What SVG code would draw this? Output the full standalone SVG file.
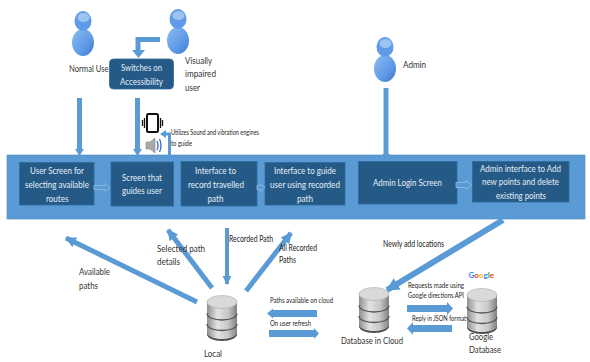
<svg xmlns="http://www.w3.org/2000/svg" width="590" height="362" viewBox="0 0 590 362">
<style>
text{font-family:"Lato","Liberation Sans",sans-serif;font-size:10px;fill:#333}
.w{fill:#e6eef6;font-size:10px}
.s{font-size:8px;fill:#222}
.n{font-size:9px;fill:#222}
.box{fill:#255a87;stroke:#2f6a9c;stroke-width:.8}
.c{fill:none;stroke:#5b9bd5;stroke-width:5}
.t{fill:none;stroke:#5b9bd5;stroke-width:3}
.ch{fill:#5b9bd5}
.m{fill:#5b9bd5;stroke:#8fbde4;stroke-width:.8}
</style>
<defs>
<linearGradient id="pg" x1="0" y1="0" x2="1" y2="1"><stop offset="0" stop-color="#8dbcf0"/><stop offset=".6" stop-color="#5f9be8"/><stop offset="1" stop-color="#3f78cc"/></linearGradient>
<linearGradient id="dg" x1="0" y1="0" x2="1" y2="0"><stop offset="0" stop-color="#8f8f8f"/><stop offset=".35" stop-color="#e2e2e2"/><stop offset=".7" stop-color="#c8c8c8"/><stop offset="1" stop-color="#808080"/></linearGradient>
<marker id="a" viewBox="0 0 10 10" refX="9" refY="5" markerWidth="2.2" markerHeight="2.500" orient="auto"><path d="M0 0L10 5L0 10Z" fill="#5b9bd5"/></marker>
<symbol id="person" viewBox="0 0 22 45" overflow="visible">
<ellipse cx="11" cy="31.500" rx="11" ry="13.500" fill="url(#pg)"/>
<ellipse cx="11" cy="10" rx="8.500" ry="10" fill="#5f9be8"/>
<ellipse cx="11.500" cy="6.500" rx="6" ry="4.500" fill="#9cc4f2"/>
</symbol>
<symbol id="db" viewBox="0 0 32 46" overflow="visible">
<path d="M1 7V39C1 43 8 46 16 46S31 43 31 39V7Z" fill="url(#dg)"/>
<path d="M1 39C1 43 8 46 16 46S31 43 31 39V37.500C31 41.500 24 44 16 44S1 41.500 1 37.500Z" fill="#4d4d4d"/>
<path d="M1 18.500C1 22.500 8 25 16 25S31 22.500 31 18.500M1 29C1 33 8 35.500 16 35.500S31 33 31 29" fill="none" stroke="#555" stroke-width="1.300"/>
<ellipse cx="16" cy="7" rx="15" ry="6.500" fill="#d9d9d9" stroke="#aaa" stroke-width=".6"/>
</symbol>
</defs>

<rect id="band" x="7" y="155" width="578" height="64" fill="#5b9bd5" stroke="#4a85bd" stroke-width=".6"/>

<g id="connectors">
<path class="c" d="M160 39.500H138V50"/>
<path class="ch" d="M132 50H145L138.500 58Z"/>
<path class="c" d="M79.500 98V150"/><path class="ch" d="M75 149H84L79.500 156Z"/>
<path class="c" d="M137.500 98V150"/><path class="ch" d="M133 149H142L137.500 156Z"/>
<path class="c" d="M386 88V154"/><path class="ch" d="M382 154H390L386 160Z"/>
<path class="t" d="M169.500 165V134H165"/><path class="ch" d="M166 130V138L160 134Z"/>
<path class="c" d="M197 302L66 238" marker-end="url(#a)"/>
<path class="c" d="M212 288L168 230" marker-end="url(#a)"/>
<path class="c" style="stroke-width:4" d="M227 228V284" marker-end="url(#a)"/>
<path class="c" d="M246 291L291 233" marker-end="url(#a)"/>
<path class="c" style="stroke-width:6" d="M503 220L387 290" marker-end="url(#a)"/>
<path class="ch" d="M317 310V317H273V318.500L267 313.500L273 308.500V310Z"/>
<path class="ch" d="M269 330H314V328L319 333.500L314 339V337H269Z"/>
<path class="ch" d="M407 305H447V302L453 308.500L447 315V312H407Z"/>
<path class="ch" d="M452 325V332H413V335L407 328.500L413 322V325Z"/>
</g>

<g id="normal-user"><use href="#person" x="72" y="11" width="22" height="45"/><text x="69" y="72" textLength="39.500" lengthAdjust="spacingAndGlyphs">Normal Use</text></g>
<g id="impaired-user"><use href="#person" x="167" y="9" width="22" height="45"/><text x="185" y="64" textLength="27" lengthAdjust="spacingAndGlyphs">Visually</text><text x="185" y="77" textLength="31" lengthAdjust="spacingAndGlyphs">impaired</text><text x="185" y="91" textLength="15" lengthAdjust="spacingAndGlyphs">user</text></g>
<g id="admin"><use href="#person" x="374" y="37" width="22" height="45"/><text x="403" y="68" textLength="23" lengthAdjust="spacingAndGlyphs">Admin</text></g>
<g id="accessibility"><rect class="box" x="109.500" y="59" width="64" height="30" rx="4"/><text class="w" x="121" y="71" textLength="41" lengthAdjust="spacingAndGlyphs">Switches on</text><text class="w" x="120" y="85" textLength="43" lengthAdjust="spacingAndGlyphs">Accessibility</text></g>

<g id="vibration-icon">
<rect x="147" y="114" width="11" height="18" rx="1.500" fill="#fff" stroke="#111" stroke-width="2"/>
<path d="M144.500 118V128M142.500 120V126M160.500 118V128M162.500 120V126" stroke="#111" stroke-width="1.300"/>
</g>
<g id="sound-icon">
<path d="M146 142H150L155 138V153L150 149H146Z" fill="#aaa" stroke="#777" stroke-width=".5"/>
<path d="M157 141Q159 145.500 157 150M159.500 139Q162.500 145.500 159.500 152" fill="none" stroke="#3d6fd6" stroke-width="1.300"/>
</g>
<text class="s" x="171" y="135" textLength="88" lengthAdjust="spacingAndGlyphs">Utilizes Sound and vibration engines</text>
<text class="s" x="171" y="146" textLength="21" lengthAdjust="spacingAndGlyphs">to guide</text>

<g id="user-screen"><rect class="box" x="19.500" y="162.500" width="74.500" height="42.500"/><text class="w" x="30" y="174" textLength="54" lengthAdjust="spacingAndGlyphs">User Screen for</text><text class="w" x="25" y="188" textLength="64" lengthAdjust="spacingAndGlyphs">selecting available</text><text class="w" x="46" y="202" textLength="22.500" lengthAdjust="spacingAndGlyphs">routes</text></g>
<g id="guide-screen"><rect class="box" x="111" y="162" width="62.500" height="44"/><text class="w" x="122" y="181" textLength="40" lengthAdjust="spacingAndGlyphs">Screen that</text><text class="w" x="122" y="194" textLength="40" lengthAdjust="spacingAndGlyphs">guides user</text></g>
<g id="record-interface"><rect class="box" x="181" y="161.500" width="76" height="44.500"/><text class="w" x="195" y="174" textLength="41" lengthAdjust="spacingAndGlyphs">Interface to</text><text class="w" x="188" y="188" textLength="56" lengthAdjust="spacingAndGlyphs">record travelled</text><text class="w" x="207.500" y="202" textLength="16" lengthAdjust="spacingAndGlyphs">path</text></g>
<g id="guide-interface"><rect class="box" x="265" y="162.500" width="80" height="42.500"/><text class="w" x="274" y="174" textLength="62" lengthAdjust="spacingAndGlyphs">Interface to guide</text><text class="w" x="270" y="188" textLength="70" lengthAdjust="spacingAndGlyphs">user using recorded</text><text class="w" x="297" y="202" textLength="16" lengthAdjust="spacingAndGlyphs">path</text></g>
<g id="admin-login"><rect class="box" x="358.500" y="161.500" width="98.500" height="42.500"/><text class="w" x="373" y="186" textLength="69" lengthAdjust="spacingAndGlyphs">Admin Login Screen</text></g>
<g id="admin-interface"><rect class="box" x="472.500" y="161.500" width="96.500" height="40.500"/><text class="w" x="480" y="172" textLength="81" lengthAdjust="spacingAndGlyphs">Admin interface to Add</text><text class="w" x="482" y="185" textLength="77" lengthAdjust="spacingAndGlyphs">new points and delete</text><text class="w" x="496" y="199" textLength="50" lengthAdjust="spacingAndGlyphs">existing points</text></g>

<g id="box-arrows">
<path class="m" d="M94 185.500H105V183.500L110 187.500L105 191.500V189.500H94Z"/>
<path class="m" d="M257 185.500H260V183.500L265 187.500L260 191.500V189.500H257Z"/>
<path class="m" d="M456 182.500H466V180.500L472 185L466 189.500V187.500H456Z"/>
</g>

<g id="local-db"><use href="#db" x="206" y="295" width="32" height="46"/><text x="204" y="357" textLength="18" lengthAdjust="spacingAndGlyphs">Local</text></g>
<g id="cloud-db"><use href="#db" x="358" y="287" width="32" height="46"/><text x="341" y="344" textLength="62" lengthAdjust="spacingAndGlyphs">Database in Cloud</text></g>
<g id="google-db"><use href="#db" x="466" y="288" width="32" height="46"/><text x="469" y="340" textLength="24" lengthAdjust="spacingAndGlyphs">Google</text><text x="469" y="353" textLength="32" lengthAdjust="spacingAndGlyphs">Database</text></g>
<text id="google-logo" x="468.500" y="278" style="font-size:8px;font-weight:700"><tspan fill="#4285f4">G</tspan><tspan fill="#ea4335">o</tspan><tspan fill="#fbbc05">o</tspan><tspan fill="#4285f4">g</tspan><tspan fill="#34a853">l</tspan><tspan fill="#ea4335">e</tspan></text>

<text x="79" y="275" textLength="31" lengthAdjust="spacingAndGlyphs">Available</text><text x="79" y="289" textLength="19" lengthAdjust="spacingAndGlyphs">paths</text>
<text x="157" y="252" textLength="48" lengthAdjust="spacingAndGlyphs">Selected path</text><text x="157" y="265" textLength="23" lengthAdjust="spacingAndGlyphs">details</text>
<text class="n" x="229" y="242" textLength="44" lengthAdjust="spacingAndGlyphs">Recorded Path</text>
<text class="n" x="279" y="251" textLength="38" lengthAdjust="spacingAndGlyphs">All Recorded</text><text class="n" x="279" y="263" textLength="17" lengthAdjust="spacingAndGlyphs">Paths</text>
<text class="s" x="270" y="303" textLength="63" lengthAdjust="spacingAndGlyphs">Paths available on cloud</text>
<text class="s" x="270" y="326" textLength="41" lengthAdjust="spacingAndGlyphs">On user refresh</text>
<text class="n" x="383" y="247" textLength="61" lengthAdjust="spacingAndGlyphs">Newly add locations</text>
<text class="s" x="408" y="288" textLength="56" lengthAdjust="spacingAndGlyphs">Requests made using</text>
<text class="s" x="408" y="298" textLength="56" lengthAdjust="spacingAndGlyphs">Google directions API</text>
<text class="s" x="412" y="321" textLength="54" lengthAdjust="spacingAndGlyphs">Reply in JSON format</text>
</svg>
